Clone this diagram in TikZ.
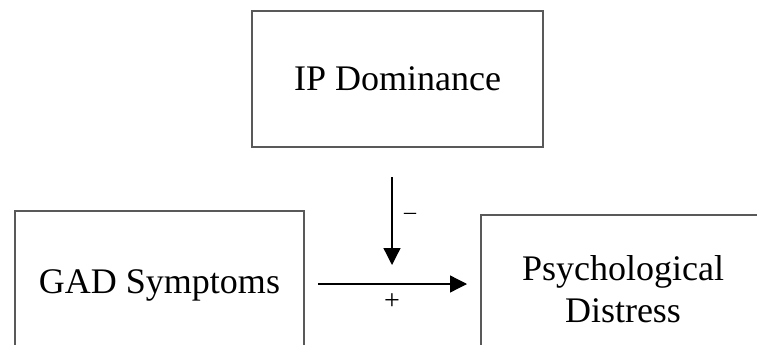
\documentclass[tikz,border=0pt]{standalone}
\usepackage{fontspec}
\setmainfont{Liberation Serif}
\usetikzlibrary{arrows.meta}
\begin{document}
\begin{tikzpicture}[x=1pt,y=-1pt,
  box/.style={draw=black!65, line width=1.4pt, inner sep=0pt, align=center,
    font=\fontsize{36}{42.5}\selectfont},
  arr/.style={line width=1.3pt, -{Triangle[length=17pt,width=17pt]}},
  sign/.style={font=\fontsize{28}{28}\selectfont, inner sep=0pt},
  minussign/.style={font=\fontsize{24}{24}\selectfont, inner sep=0pt}]
\useasboundingbox (0,0) rectangle (757,345);
\clip (0,0) rectangle (757,345);
\fill[white] (0,0) rectangle (757,345);
\node[box, minimum width=291pt, minimum height=136pt] (ip) at (397.5,79) {IP Dominance};
\node[box, minimum width=289pt, minimum height=148pt] (gad) at (159.5,285) {GAD Symptoms};
\node[box, minimum width=284pt, minimum height=148pt] (psych) at (623,289) {Psychological\\Distress};
\coordinate (vtop) at (392,177);
\coordinate (vtip) at (392,265);
\coordinate (hs) at (318,284);
\coordinate (he) at (467,284);
\draw[arr] (vtop) -- (vtip);
\draw[arr] (hs) -- (he);
\node[minussign] (minus) at (410,216) {–};
\node[sign] (plus) at (392,302) {+};
\end{tikzpicture}
\end{document}
